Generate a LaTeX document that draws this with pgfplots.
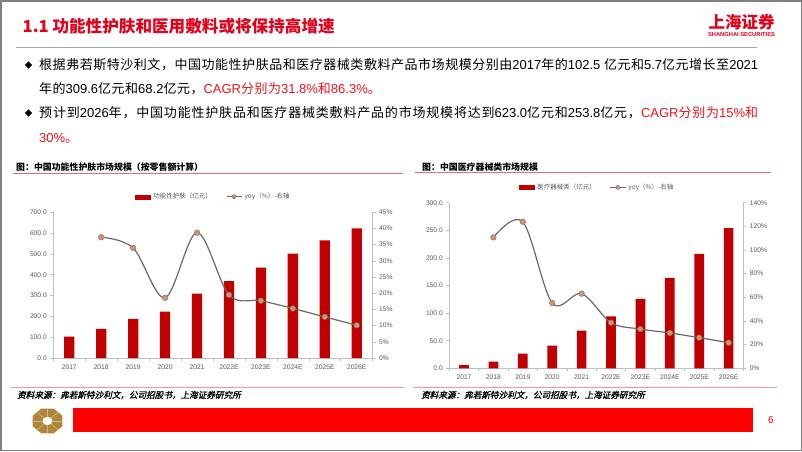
\documentclass[border=0pt]{standalone}
\usepackage{graphicx}
\usepackage{pgfplots}
\pgfplotsset{compat=1.18}
\usepackage{fontspec}
\setmainfont{Noto Sans CJK SC}
\newfontfamily\en{Liberation Sans}
\newfontfamily\srcfont{Noto Sans CJK SC}[FakeSlant=0.22,FakeBold=1.2]
\newcommand\E[1]{{\en #1}}
\newXeTeXintercharclass\mycls
\def\setcls#1{\ifx#1\relax\else\XeTeXcharclass`#1=\mycls\expandafter\setcls\fi}
\setcls 根据弗若斯特沙利文，中国功能性护肤品和医疗器械类敷料产品市场规模分别由年的亿元增长至预计到将达为\relax
\XeTeXinterchartoks\mycls\mycls={\hskip 0.5pt plus 1fil\relax}
\XeTeXinterchartokenstate=0
\newcommand\icon{\XeTeXinterchartokenstate=1\relax}
\definecolor{titlered}{RGB}{226,0,26}
\definecolor{barred}{RGB}{192,0,0}
\definecolor{txtred}{RGB}{240,20,30}
\definecolor{lbl}{RGB}{89,89,89}
\definecolor{axgray}{RGB}{191,191,191}
\definecolor{linegray}{RGB}{105,105,105}
\definecolor{mkfill}{RGB}{200,150,120}
\definecolor{mkdraw}{RGB}{150,115,100}
\definecolor{pinkline}{RGB}{232,110,120}
\definecolor{gold}{RGB}{176,134,62}
\definecolor{goldl}{RGB}{214,182,120}
\pgfplotsset{
  base/.style={scale only axis, xmin=-0.5, xmax=9.5, ymin=0,
    tick label style={font=\en\fontsize{6.7}{8}\selectfont, text=lbl},
    /pgf/number format/assume math mode=true,
    axis line style={draw=axgray, line width=0.6pt},
    tick style={draw=axgray, line width=0.6pt},
    major tick length=3pt, minor tick length=3pt},
  barax/.style={base, axis x line*=bottom, axis y line*=left,
    xtick={0,...,9}, xticklabels={2017,2018,2019,2020,2021,2022E,2023E,2024E,2025E,2026E},
    major x tick style={draw=none}, minor xtick={-0.5,0.5,...,9.5},
    yticklabel style={/pgf/number format/.cd, fixed, fixed zerofill, precision=1},
    ybar, tick align=outside},
  lineax/.style={base, axis y line*=right, axis x line=none,
    yticklabel={\pgfmathprintnumber{\tick}\%}, tick align=outside,
    legend style={anchor=center, draw=none, fill=none,
      font=\fontsize{6.5}{8}\selectfont, text=lbl, legend columns=2,
      /tikz/every odd column/.append style={column sep=1.5pt},
      /tikz/every even column/.append style={column sep=13pt},
      nodes={inner sep=1pt}}},
  yoyline/.style={linegray, line width=1.2pt, smooth, tension=0.55, mark=*, mark size=2.8pt,
    mark options={fill=mkfill, draw=mkdraw, line width=0.5pt},
    legend image code/.code={\draw[mark repeat=2, mark phase=2, mark size=2pt,##1] plot coordinates {(0pt,0pt) (7.5pt,0pt) (15pt,0pt)};}},
}
\begin{document}
\begin{tikzpicture}
\useasboundingbox (0,0) rectangle (802pt,-451pt);
\fill[white] (0,0) rectangle (802pt,-451pt);
\draw[gray, line width=1.5pt] (0.75pt,-0.75pt) rectangle (801.25pt,-450.25pt);
% title
\node[anchor=west, inner sep=0, font=\fontsize{16.6}{18}\selectfont\bfseries, text=titlered] at (22.5pt,-26.5pt) {1.1 功能性护肤和医用敷料或将保持高增速};
\node[inner sep=0, font=\fontsize{16.5}{18}\selectfont\bfseries, text=titlered] at (741.5pt,-22.5pt) {上海证券};
\node[inner sep=0, font=\en\bfseries\fontsize{5}{6}\selectfont, text=titlered] at (741.5pt,-35pt) {\resizebox{67pt}{4pt}{SHANGHAI SECURITIES}};
\draw[gray!70, line width=0.8pt] (16pt,-47pt) -- (757pt,-47pt);
% bullets
\foreach \yy in {65,113} {\fill (28.5pt,-\yy pt) ++(-3.6pt,0) -- ++(3.6pt,3.6pt) -- ++(3.6pt,-3.6pt) -- ++(-3.6pt,-3.6pt) -- cycle;}
\begin{scope}[every node/.style={anchor=west, inner sep=0, font=\icon\fontsize{13}{15}\selectfont}]
\node at (39pt,-65pt) {\hbox to 719pt{根据弗若斯特沙利文，中国功能性护肤品和医疗器械类敷料产品市场规模分别由\E{2017}年的\E{102.5 }亿元和\E{5.7}亿元增长至\E{2021}}};
\node at (39pt,-88.5pt) {年的\E{309.6}亿元和\E{68.2}亿元，{\color{txtred}\E{CAGR}分别为\E{31.8\%}和\E{86.3\%}。}};
\node at (39pt,-113pt) {\hbox to 719pt{预计到\E{2026}年，中国功能性护肤品和医疗器械类敷料产品的市场规模将达到\E{623.0}亿元和\E{253.8}亿元，{\color{txtred}\E{CAGR}分别为\E{15\%}和}}};
\node at (39pt,-138pt) {{\color{txtred}\E{30\%}。}};
\end{scope}
% chart headers
\node[anchor=west, inner sep=0, font=\fontsize{8.9}{10}\selectfont\bfseries] at (16pt,-167.3pt) {图：中国功能性护肤市场规模（按零售额计算）};
\draw[pinkline, line width=0.8pt] (13pt,-173.5pt) -- (403pt,-173.5pt);
\node[anchor=west, inner sep=0, font=\fontsize{8.9}{10}\selectfont\bfseries] at (422pt,-166.8pt) {图：中国医疗器械类市场规模};
\draw[pinkline, line width=0.8pt] (415pt,-172.5pt) -- (771pt,-172.5pt);
% footer
\draw[pinkline!70, line width=0.8pt] (11pt,-387pt) -- (404pt,-387pt);
\draw[pinkline!70, line width=0.8pt] (413pt,-387pt) -- (777pt,-387pt);
\node[anchor=west, inner sep=0, font=\srcfont\fontsize{8.6}{10}\selectfont] at (17pt,-395pt) {资料来源：弗若斯特沙利文，公司招股书，上海证券研究所};
\node[anchor=west, inner sep=0, font=\srcfont\fontsize{8.6}{10}\selectfont] at (421pt,-395pt) {资料来源：弗若斯特沙利文，公司招股书，上海证券研究所};
\fill[red] (73pt,-408pt) rectangle (753pt,-432pt);
\node[text=red, inner sep=0, font=\en\fontsize{10}{12}\selectfont] at (771pt,-420pt) {6};
\begin{scope}[shift={(47.5pt,-421pt)}, yscale=0.83]
\fill[gold] (22.5:16.2pt) -- (67.5:16.2pt) -- (112.5:16.2pt) -- (157.5:16.2pt) -- (202.5:16.2pt) -- (247.5:16.2pt) -- (292.5:16.2pt) -- (337.5:16.2pt) -- cycle;
\foreach \a in {0,45,...,315} {\draw[goldl, line width=0.6pt] (\a:5pt) -- (\a:14.5pt);}
\fill[white] (0,0) circle (5pt);
\end{scope}
% ===== left chart =====
\begin{axis}[barax, at={(53.3pt,-358pt)}, anchor=south west, width=319.4pt, height=145.7pt,
  ymax=700, ytick={0,100,...,700}, bar width=10.3pt]
\addplot[fill=barred, draw=none, bar shift=0pt] coordinates {(0,102.5) (1,139.8) (2,187.8) (3,222.8) (4,309.6) (5,369.0) (6,434.0) (7,501.2) (8,565.3) (9,623.0)};
\end{axis}
\begin{axis}[lineax, at={(53.3pt,-358pt)}, anchor=south west, width=319.4pt, height=145.7pt,
  ymax=45, ytick={0,5,...,45}, legend style={at={(0.50,1.107)}}]
\addlegendimage{legend image code/.code={\fill[barred] (0pt,-2pt) rectangle (15pt,2pt);}}
\addlegendentry{功能性护肤（亿元）}
\addplot[yoyline] coordinates {(1,37.3) (2,34.0) (3,18.6) (4,38.7) (5,19.5) (6,17.7) (7,15.3) (8,12.7) (9,10.1)};
\addlegendentry{yoy（\%）-右轴}
\end{axis}
% ===== right chart =====
\begin{axis}[barax, at={(449.3pt,-368.3pt)}, anchor=south west, width=294pt, height=165.6pt,
  ymax=300, ytick={0,50,...,300}, bar width=9.7pt]
\addplot[fill=barred, draw=none, bar shift=0pt] coordinates {(0,5.7) (1,11.9) (2,26.6) (3,41.2) (4,68.2) (5,94.3) (6,125.7) (7,164.0) (8,207.5) (9,253.8)};
\end{axis}
\begin{axis}[lineax, at={(449.3pt,-368.3pt)}, anchor=south west, width=294pt, height=165.6pt,
  ymax=140, ytick={0,20,...,140}, legend style={at={(0.502,1.093)}}]
\addlegendimage{legend image code/.code={\fill[barred] (0pt,-2pt) rectangle (15pt,2pt);}}
\addlegendentry{医疗器械类（亿元）}
\addplot[yoyline] coordinates {(1,110.7) (2,123.9) (3,55.2) (4,63.1) (5,38.6) (6,33.2) (7,29.9) (8,25.9) (9,21.7)};
\addlegendentry{yoy（\%）-右轴}
\end{axis}
\end{tikzpicture}
\end{document}
